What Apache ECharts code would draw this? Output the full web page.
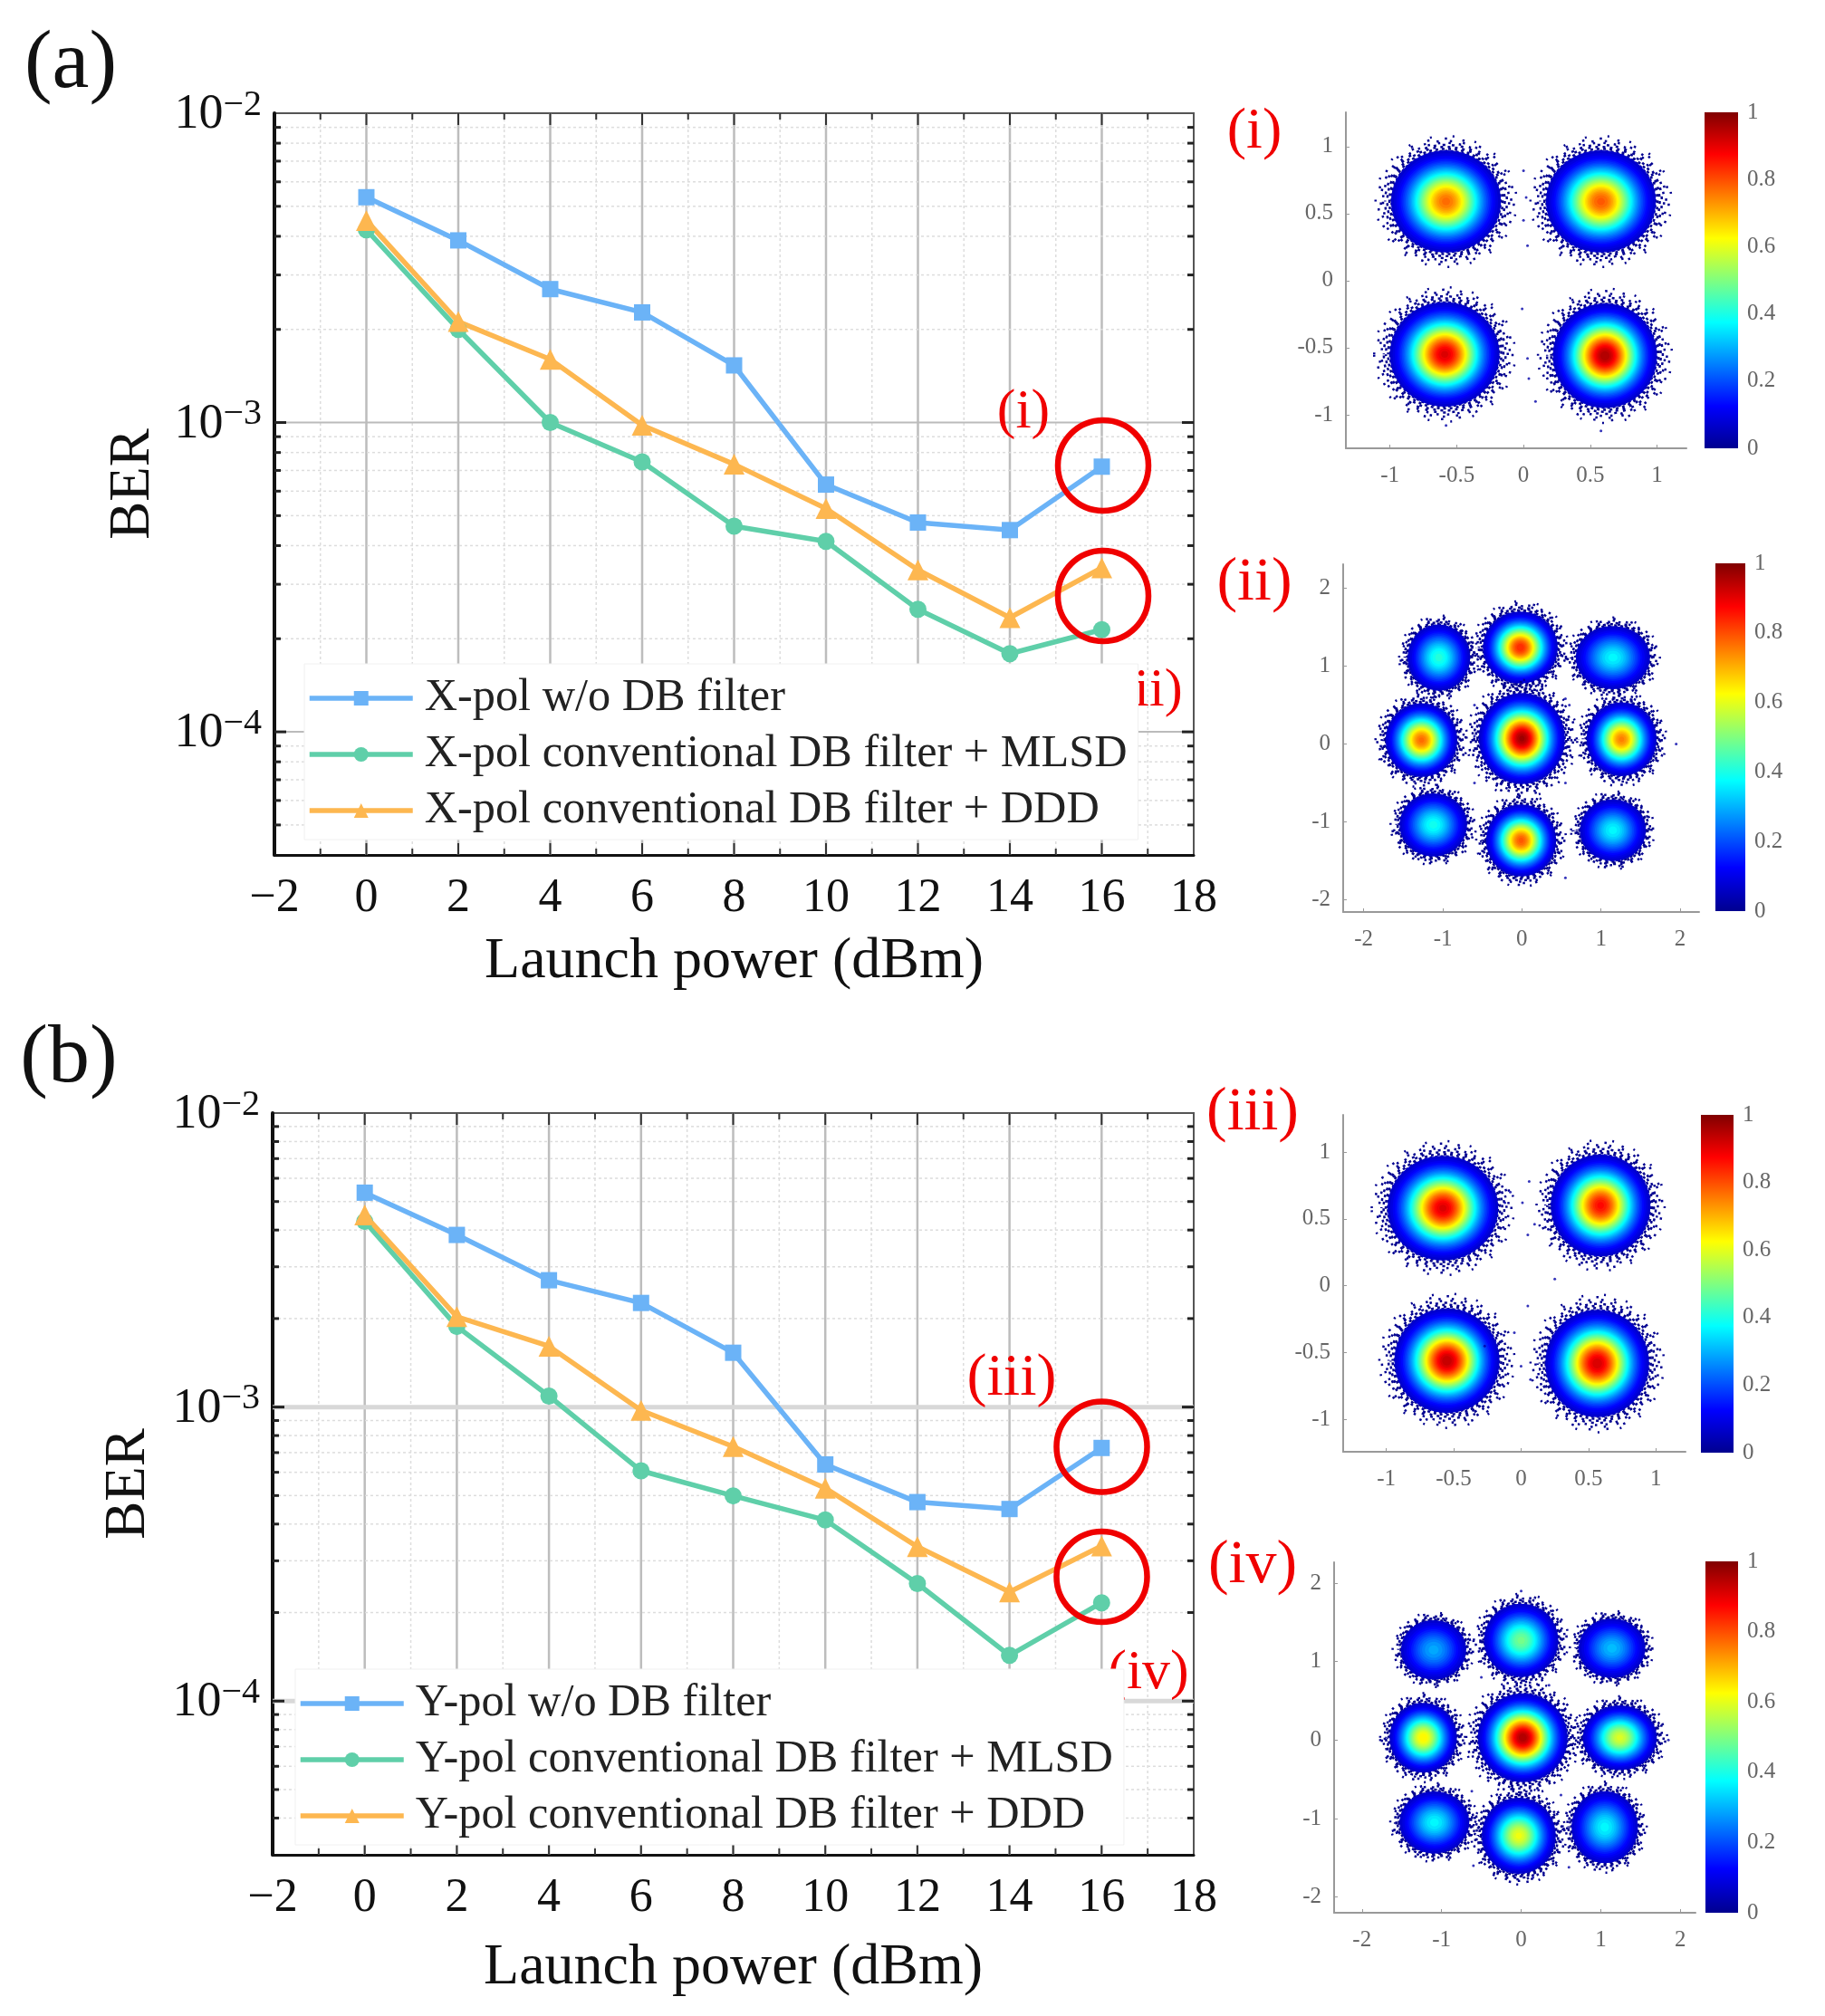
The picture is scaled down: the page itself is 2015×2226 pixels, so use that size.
<!DOCTYPE html>
<html>
<head>
<meta charset="utf-8">
<style>html,body{margin:0;padding:0;background:#fff}#c{width:2015px;height:2226px}</style>
<script src="https://cdn.jsdelivr.net/npm/echarts@6/dist/echarts.min.js"></script>
</head>
<body>
<div id="c"></div>
<script>
// ---------- BER curves ----------
const launchPower = [0,2,4,6,8,10,12,14,16];
const xpolNoFilter = [5.35e-3,3.88e-3,2.7e-3,2.27e-3,1.53e-3,6.3e-4,4.75e-4,4.49e-4,7.2e-4];
const xpolMlsd     = [4.2e-3,2.0e-3,1.0e-3,7.46e-4,4.62e-4,4.13e-4,2.49e-4,1.79e-4,2.14e-4];
const xpolDdd      = [4.5e-3,2.12e-3,1.6e-3,9.8e-4,7.33e-4,5.27e-4,3.34e-4,2.34e-4,3.39e-4];
const ypolNoFilter = [5.36e-3,3.85e-3,2.7e-3,2.26e-3,1.53e-3,6.38e-4,4.75e-4,4.5e-4,7.26e-4];
const ypolMlsd     = [4.28e-3,1.88e-3,1.09e-3,6.07e-4,4.99e-4,4.13e-4,2.51e-4,1.43e-4,2.16e-4];
const ypolDdd      = [4.5e-3,2.03e-3,1.61e-3,9.75e-4,7.34e-4,5.3e-4,3.35e-4,2.35e-4,3.37e-4];
const xNamesA = ['X-pol w/o DB filter','X-pol conventional DB filter + MLSD','X-pol conventional DB filter + DDD'];
const yNamesB = ['Y-pol w/o DB filter','Y-pol conventional DB filter + MLSD','Y-pol conventional DB filter + DDD'];
const yMajor = [1e-4,1e-3,1e-2];
const yMinor = [3e-5,4e-5,5e-5,6e-5,7e-5,8e-5,9e-5,2e-4,3e-4,4e-4,5e-4,6e-4,7e-4,8e-4,9e-4,2e-3,3e-3,4e-3,5e-3,6e-3,7e-3,8e-3,9e-3];
const xMajor = [0,2,4,6,8,10,12,14,16];
const xMinor = [-1,1,3,5,7,9,11,13,15,17];

// ---------- constellation clusters: centre x, centre y, radius x, radius y, peak density ----------
const clustersI = [[-.58,.59,.40,.37,.78],[.58,.59,.40,.37,.80],[-.59,-.55,.40,.38,.92],[.61,-.56,.38,.38,.97]];
const clustersII = [[-1.05,1.11,.38,.41,.42],[-.02,1.24,.46,.45,.85],[1.15,1.11,.45,.39,.38],[-1.27,.05,.44,.46,.78],[0,.07,.53,.57,.98],[1.26,.06,.43,.46,.76],[-1.12,-1.04,.41,.39,.40],[-.01,-1.24,.43,.45,.80],[1.15,-1.11,.40,.38,.38]];
const clustersIII = [[-.58,.58,.40,.38,.92],[.59,.60,.36,.37,.88],[-.55,-.56,.38,.38,.95],[.565,-.58,.375,.39,.93]];
const clustersIV = [[-1.10,1.15,.39,.36,.30],[0,1.27,.45,.45,.50],[1.14,1.17,.40,.36,.32],[-1.23,.03,.41,.43,.65],[.02,.03,.55,.55,.97],[1.24,.03,.45,.40,.60],[-1.09,-1.05,.42,.38,.38],[-.03,-1.22,.45,.47,.62],[1.05,-1.11,.40,.44,.38]];
const straysI = [[0,.82],[0,.45],[.03,.26],[-.01,-.21],[.04,-.73],[.09,-.9],[-.58,-1.08],[.58,-1.12],[.02,.62],[.03,-.58]];
const straysII = [[-.6,.5],[.6,.5],[-.6,-.5],[.55,-.5],[.55,.58],[.56,-.05],[-.6,.1],[1.95,.0],[.55,-1.72]];
const straysIII = [[-.08,.7],[.01,.62],[.06,.78],[.1,.46],[.05,.38],[-.12,.62],[.25,.05],[-.27,-.45],[.0,-.6],[.07,-.7],[-.05,-.35],[.05,-.15]];
const straysIV = [[0,1.9],[-.5,.8],[.35,.7],[.5,-.7],[-.6,-1.6],[.6,-1.62],[1.85,0],[-.62,-.65],[.15,-1.75]];

// ---------- colour scale ----------
const jetStops = [[0,'#00008f'],[.125,'#0000ff'],[.375,'#00ffff'],[.625,'#ffff00'],[.875,'#ff0000'],[1,'#800000']];
const colorbarTicks = [0,.2,.4,.6,.8,1];

const W = 2015;
const serif = '"Liberation Serif","Times New Roman",serif';
const palette = {blue:'#6bb3f7', green:'#5fcfa9', orange:'#fdb750'};

function hex(c){return [1,3,5].map(i=>parseInt(c.substr(i,2),16));}
function jet(d){
  for(let i=1;i<jetStops.length;i++){
    if(d<=jetStops[i][0]){
      const a=jetStops[i-1],b=jetStops[i],t=(d-a[0])/(b[0]-a[0]);
      const ca=hex(a[1]),cb=hex(b[1]);
      return 'rgb('+ca.map((v,k)=>Math.round(v+(cb[k]-v)*t)).join(',')+')';
    }
  }
  return jetStops[jetStops.length-1][1];
}

const grids=[],xAxes=[],yAxes=[],series=[],legends=[],graphics=[];

function berPanel(o){
  const gi=grids.length;
  grids.push({left:o.left,top:o.top,width:o.right-o.left,height:o.bottom-o.top,show:true,borderColor:'#555',borderWidth:2,backgroundColor:'transparent'});
  xAxes.push({type:'value',gridIndex:gi,min:-2,max:18,interval:2,
    axisLine:{onZero:false,lineStyle:{color:'#111',width:3}},axisTick:{show:false},splitLine:{show:false},
    axisLabel:{margin:22,fontFamily:serif,fontSize:52,color:'#111',formatter:v=>String(v).replace('-','\u2212')},
    name:'Launch power (dBm)',nameLocation:'middle',nameGap:o.xGap,nameTextStyle:{fontFamily:serif,fontSize:64,color:'#111'}});
  yAxes.push({type:'log',logBase:10,gridIndex:gi,min:o.ymin,max:1e-2,
    axisLine:{onZero:false,lineStyle:{color:'#111',width:4}},axisTick:{show:false},splitLine:{show:false},
    axisLabel:{customValues:yMajor,margin:14,padding:[4,0,0,0],formatter:v=>'{b|10}{s|\u2212'+Math.round(-Math.log10(v))+'}',
      rich:{b:{fontFamily:serif,fontSize:54,color:'#111',lineHeight:62},s:{fontFamily:serif,fontSize:40,color:'#111',verticalAlign:'top',lineHeight:30}}},
    name:'BER',nameLocation:'middle',nameGap:o.yGap,nameTextStyle:{fontFamily:serif,fontSize:63,color:'#111'}});
  const vRows=xMajor.map(v=>[v,1e-3,1]).concat(xMinor.map(v=>[v,1e-3,0]));
  const hRows=yMajor.filter(v=>v<1e-2).map(v=>[0,v,1]).concat(yMinor.filter(v=>v>o.ymin).map(v=>[0,v,0]));
  const seg=(x1,y1,x2,y2,st)=>({type:'line',shape:{x1,y1,x2,y2},style:st});
  series.push({type:'custom',xAxisIndex:gi,yAxisIndex:gi,z:1,silent:true,data:vRows,clip:false,tooltip:{show:false},
    renderItem:(p,api)=>{
      const x=api.value(0),m=api.value(2);
      const a=api.coord([x,o.ymin]),b=api.coord([x,1e-2]),L=m?13:7,tick={stroke:'#333',lineWidth:2};
      return {type:'group',children:[
        seg(a[0],a[1],b[0],b[1],m?{stroke:'#bdbdbd',lineWidth:2.5}:{stroke:'#dddddd',lineWidth:1.5,lineDash:[3,3]}),
        seg(a[0],a[1],a[0],a[1]-L,tick),seg(b[0],b[1],b[0],b[1]+L,tick)]};
    }});
  series.push({type:'custom',xAxisIndex:gi,yAxisIndex:gi,z:1,silent:true,data:hRows,clip:false,tooltip:{show:false},
    renderItem:(p,api)=>{
      const y=api.value(1),m=api.value(2);
      const a=api.coord([-2,y]),b=api.coord([18,y]),L=m?13:7,tick={stroke:'#222',lineWidth:3};
      return {type:'group',children:[
        seg(a[0],a[1],b[0],b[1],m?{stroke:o.majorColor,lineWidth:o.majorWidth}:{stroke:'#dddddd',lineWidth:1.5,lineDash:[3,3]}),
        seg(a[0],a[1],a[0]+L,a[1],tick),seg(b[0],b[1],b[0]-L,b[1],tick)]};
    }});
  const defs=[[o.values[0],palette.blue,'rect',18],[o.values[1],palette.green,'circle',19],[o.values[2],palette.orange,'triangle',23]];
  defs.forEach((d,i)=>series.push({type:'line',name:o.names[i],xAxisIndex:gi,yAxisIndex:gi,z:3,
    data:launchPower.map((x,k)=>[x,d[0][k]]),symbol:d[2],symbolSize:d[3],showSymbol:true,clip:false,
    lineStyle:{color:d[1],width:5.5},itemStyle:{color:d[1]}}));
  legends.push({show:true,orient:'vertical',data:o.names,left:o.legLeft,top:o.legTop,z:4,
    backgroundColor:'#fff',borderColor:'#f0f0f0',borderWidth:1,
    padding:[10,12,4,3],itemWidth:114,itemHeight:20,itemGap:6,selectedMode:false,
    lineStyle:{width:5.5},
    textStyle:{fontFamily:serif,fontSize:50.3,color:'#222',padding:[0,0,0,8],height:56,lineHeight:56}});
}

function constellation(o){
  const gi=grids.length;
  grids.push({left:o.left,top:o.top,width:o.right-o.left,height:o.bottom-o.top});
  const axisBase={axisLine:{onZero:false,lineStyle:{color:'#999',width:2}},splitLine:{show:false}};
  const lab={fontFamily:serif,fontSize:25,color:'#666'};
  xAxes.push(Object.assign({type:'value',gridIndex:gi,min:o.xr[0],max:o.xr[1],
    axisTick:{inside:true,length:4,lineStyle:{color:'#999'},customValues:o.ticks},
    axisLabel:Object.assign({customValues:o.ticks,margin:18},lab)},axisBase));
  yAxes.push(Object.assign({type:'value',gridIndex:gi,min:o.yr[0],max:o.yr[1],
    axisTick:{inside:true,length:4,lineStyle:{color:'#999'},customValues:o.ticks},
    axisLabel:Object.assign({customValues:o.ticks,margin:14},lab)},axisBase));
  series.push({type:'custom',xAxisIndex:gi,yAxisIndex:gi,z:2,silent:true,data:o.clusters,clip:false,tooltip:{show:false},
    renderItem:(p,api)=>{
      const c=api.coord([api.value(0),api.value(1)]),s=api.size([1,1]);
      const R=[api.value(2)*s[0],api.value(3)*s[1]],pk=api.value(4),kids=[];
      [[1.32,[2,23],0],[1.27,[2.5,17],5],[1.22,[2.5,12],3],[1.18,[2.5,9],7],[1.14,[3,7],2],[1.10,[3,5],4],[1.06,[3,4],1],[1.02,[3,3],0]].forEach(f=>kids.push({type:'ellipse',
        shape:{cx:c[0],cy:c[1],rx:R[0]*f[0],ry:R[1]*f[0]},style:{fill:'none',stroke:'#00008f',lineWidth:2.5,lineDash:f[1],lineDashOffset:f[2]}}));
      const base=Math.log(pk/.08);
      for(let d=.07;d<pk;d+=.02){
        const r=Math.sqrt(Math.log(pk/d)/base);
        kids.push({type:'ellipse',shape:{cx:c[0],cy:c[1],rx:R[0]*r,ry:R[1]*r},style:{fill:jet(d)}});
      }
      return {type:'group',children:kids};
    }});
  series.push({type:'scatter',xAxisIndex:gi,yAxisIndex:gi,z:2,silent:true,data:o.strays,symbolSize:3,itemStyle:{color:'#0000a8'}});
  const ci=grids.length;
  grids.push({left:o.cb[0],top:o.cb[2],width:o.cb[1]-o.cb[0],height:o.cb[3]-o.cb[2]});
  xAxes.push({type:'value',gridIndex:ci,min:0,max:1,show:false});
  yAxes.push({type:'value',gridIndex:ci,min:0,max:1,position:'right',
    axisLine:{show:false},axisTick:{show:false},splitLine:{show:false},
    axisLabel:Object.assign({customValues:colorbarTicks,margin:10,padding:[4,0,0,0]},lab)});
  series.push({type:'custom',xAxisIndex:ci,yAxisIndex:ci,z:2,silent:true,data:[[0,0,1,1]],clip:false,tooltip:{show:false},
    renderItem:(p,api)=>{
      const a=api.coord([0,0]),b=api.coord([1,1]);
      return {type:'rect',shape:{x:a[0],y:b[1],width:b[0]-a[0],height:a[1]-b[1]},
        style:{fill:{type:'linear',x:0,y:1,x2:0,y2:0,colorStops:jetStops.map(s=>({offset:s[0],color:s[1]}))}}};
    }});
}

function label(text,x,y,size,color,z){
  graphics.push({type:'text',x,y,z:z||10,silent:true,style:{text,fill:color,font:size+'px '+serif,align:'center',verticalAlign:'middle',textAlign:'center',textVerticalAlign:'middle'}});
}
function ring(cx,cy){
  graphics.push({type:'circle',z:10,silent:true,shape:{cx,cy,r:50},style:{fill:'none',stroke:'#f00000',lineWidth:6.5}});
}

berPanel({left:303,right:1318,top:125,bottom:944,ymin:4e-5,xGap:86,yGap:124,majorColor:'#bbbbbb',majorWidth:2,
  values:[xpolNoFilter,xpolMlsd,xpolDdd],names:xNamesA,legLeft:336,legTop:733});
berPanel({left:301,right:1318,top:1229,bottom:2048,ymin:3e-5,xGap:93,yGap:127,majorColor:'#d8d8d8',majorWidth:5,
  values:[ypolNoFilter,ypolMlsd,ypolDdd],names:yNamesB,legLeft:326,legTop:1843});

const halfTicks=[-1,-.5,0,.5,1], unitTicks=[-2,-1,0,1,2];
constellation({left:1486,right:1862,top:124,bottom:495,xr:[-1.33,1.22],yr:[-1.25,1.255],ticks:halfTicks,clusters:clustersI,strays:straysI,cb:[1882,1919,124,495]});
constellation({left:1483,right:1876,top:623,bottom:1007,xr:[-2.26,2.24],yr:[-2.16,2.31],ticks:unitTicks,clusters:clustersII,strays:straysII,cb:[1894,1927,622,1006]});
constellation({left:1483,right:1861,top:1231,bottom:1603,xr:[-1.32,1.22],yr:[-1.24,1.277],ticks:halfTicks,clusters:clustersIII,strays:straysIII,cb:[1878,1914,1231,1604]});
constellation({left:1473,right:1872,top:1725,bottom:2112,xr:[-2.35,2.19],yr:[-2.2,2.265],ticks:unitTicks,clusters:clustersIV,strays:straysIV,cb:[1883,1919,1724,2112]});

label('(a)',78,72,92,'#111');
label('(b)',76,1170,92,'#111');
label('(i)',1130,456,62,'#f00000');
label('ii)',1279,763,60,'#f00000',3);
label('(iii)',1117,1523,66,'#f00000');
label('(iv)',1268,1848,62,'#f00000',3);
label('(i)',1385,146,64,'#f00000');
label('(ii)',1385,644,68,'#f00000');
label('(iii)',1383,1229,68,'#f00000');
label('(iv)',1383,1729,68,'#f00000');
ring(1218,514);ring(1218,658);ring(1216.5,1597.5);ring(1216.5,1741);

const chart=echarts.init(document.getElementById('c'),null,{renderer:'canvas',width:W,height:2226});
chart.setOption({animation:false,backgroundColor:'#fff',grid:grids,xAxis:xAxes,yAxis:yAxes,series,legend:legends,graphic:{elements:graphics}});
</script>
</body>
</html>
